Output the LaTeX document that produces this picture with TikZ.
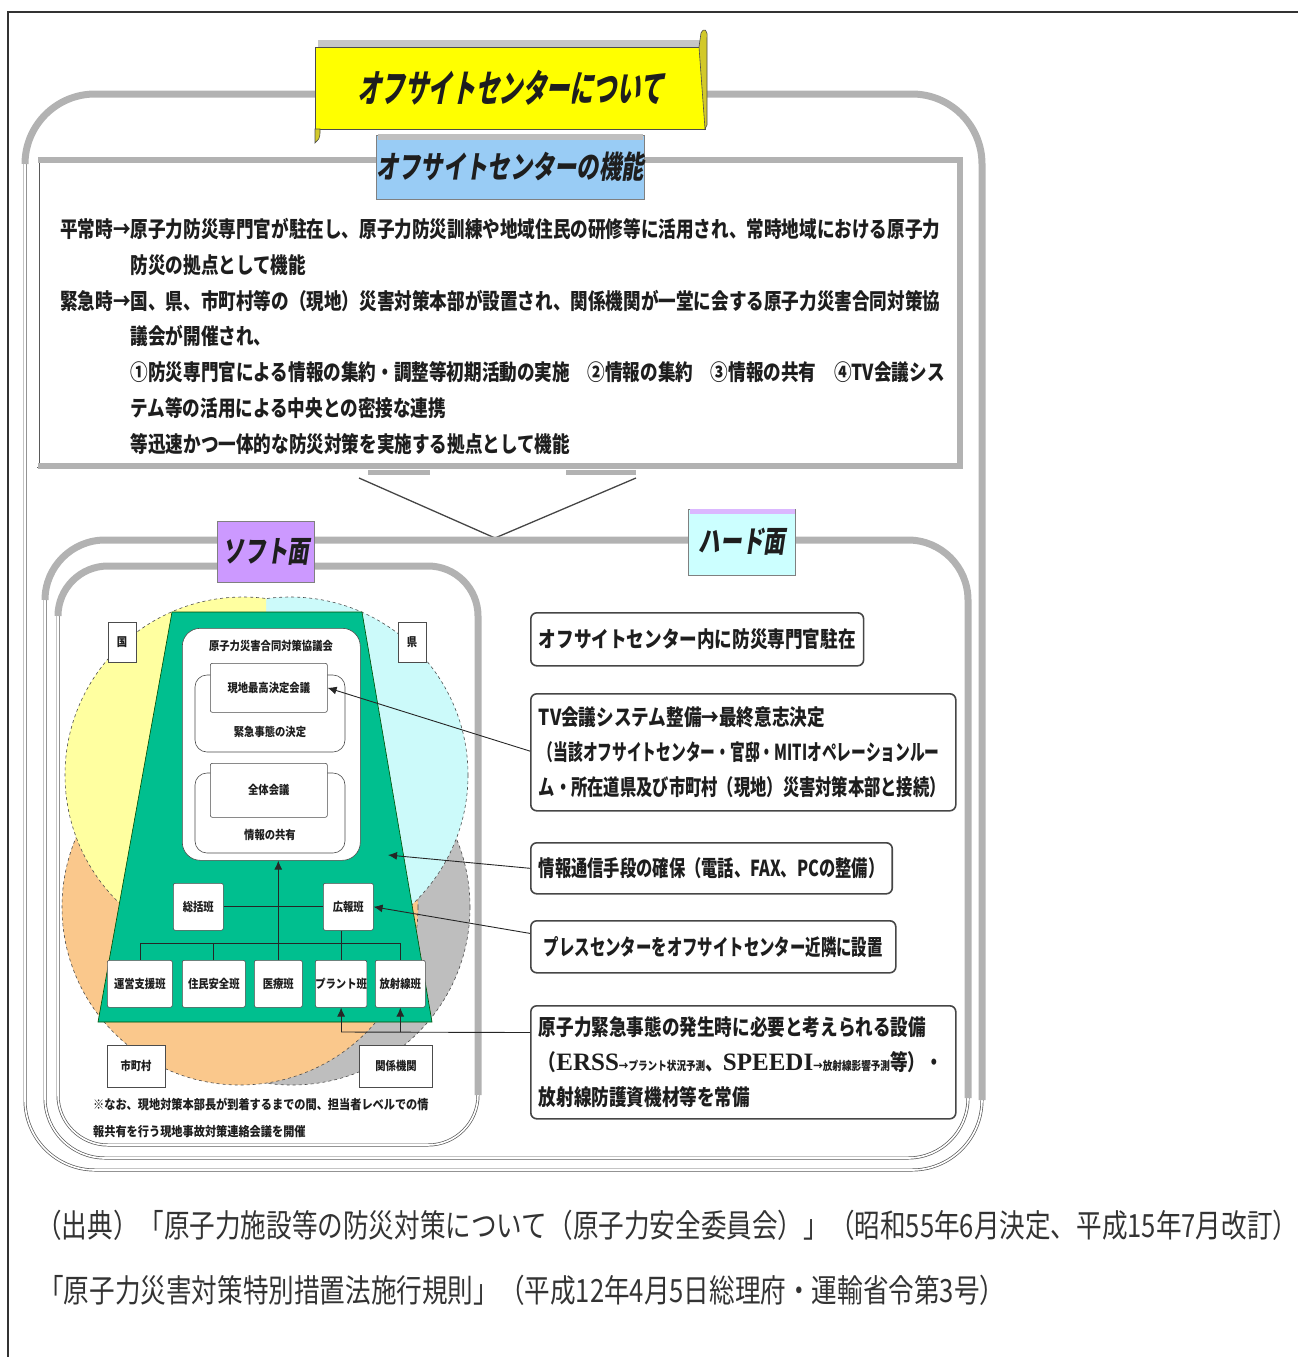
\documentclass[tikz,border=0pt]{standalone}
\usepackage{fontspec}
\usetikzlibrary{arrows.meta,calc}
\newfontfamily\jptitle[FakeStretch=0.62,FakeSlant=0.2]{Noto Sans CJK JP}
\newfontfamily\jplab[FakeStretch=0.72,FakeSlant=0.15]{Noto Sans CJK JP}
\newfontfamily\jpbody[FakeStretch=0.80]{Noto Sans CJK JP}
\newfontfamily\jpmid[FakeStretch=0.74]{Noto Sans CJK JP}
\newfontfamily\jpnarrow[FakeStretch=0.70]{Noto Sans CJK JP}
\newfontfamily\jpxnarrow[FakeStretch=0.67]{Noto Sans CJK JP}
\newfontfamily\jpsmall[FakeStretch=0.86]{Noto Sans CJK JP}
\newfontfamily\jpfoot[FakeStretch=0.80]{Noto Sans CJK JP}
\newfontfamily\serifr{Liberation Serif}
\definecolor{ttlyellow}{RGB}{255,255,0}
\definecolor{lblblue}{RGB}{153,204,245}
\definecolor{lblpurple}{RGB}{204,153,255}
\definecolor{lblcyan}{RGB}{204,255,255}
\definecolor{cyel}{RGB}{255,255,160}
\definecolor{ccyan}{RGB}{204,250,250}
\definecolor{corange}{RGB}{250,200,140}
\definecolor{cgray}{RGB}{190,190,190}
\definecolor{sgreen}{RGB}{0,191,143}
\definecolor{txt}{RGB}{30,30,30}
\begin{document}
\begin{tikzpicture}[x=1pt,y=-1pt,
  panelthin/.style={draw=gray!70!black, line width=0.7pt, double=white, double distance=1.6pt},
  panelthick/.style={draw=gray!60, line width=7pt},
  titlebox/.style={fill=ttlyellow, draw=black!70, line width=0.8pt, minimum width=390, minimum height=82, inner sep=0,
    font=\jptitle\bfseries\fontsize{38}{40}\selectfont, text=txt},
  lblbox/.style={draw=black!50, line width=0.8pt, inner sep=0, font=\jplab\bfseries\fontsize{30}{32}\selectfont, text=txt},
  hbox/.style={draw=gray!55!black, line width=1.6pt, rounded corners=6, fill=white, inner xsep=8, inner ysep=0, anchor=north west,
    font=\jpbody\bfseries\fontsize{22}{35}\selectfont, text=txt},
  sbox/.style={draw=gray!60!black, line width=0.6pt, fill=white, inner sep=0, rounded corners=2,
    font=\jpsmall\bfseries\fontsize{12}{14}\selectfont, text=txt},
  stext/.style={inner sep=0, font=\jpsmall\bfseries\fontsize{12}{14}\selectfont, text=txt},
  bracket/.style={draw=gray!60!black, line width=0.6pt, fill=white, rounded corners=12},
  vtx/.style={draw=gray!30!black, line width=0.9pt},
  conn/.style={draw=gray!30!black, line width=0.9pt, -{Latex[length=9pt,width=8pt]}},
  circ/.style={draw=gray!60!black, line width=0.6pt, dashed},
  foot/.style={inner sep=0, anchor=west, text=black!80, font=\jpfoot\fontsize{32}{34}\selectfont}
]
\useasboundingbox (0,0) rectangle (1298,1357);
% frame
\draw[black!80, line width=1.2pt] (8,1357) -- (8,12) -- (1298,12);

% outer panel
\draw[panelthin, rounded corners=70] (25,94) rectangle (982,1170);
\draw[panelthick, rounded corners=70] (25,164) -- (25,94) -- (982,94) -- (982,1100);

% function box
\draw[panelthin] (38,160) rectangle (960,466);
\draw[panelthick, line width=6pt] (38,160) -- (960,160) -- (960,466) -- (38,466);

% funnel
\fill[white] (359,478) -- (495,538) -- (636,478) -- cycle;
\draw[gray!55!black, line width=1.3pt] (359,478) -- (495,538) -- (636,478);
\draw[gray!60, line width=5pt] (368,472) -- (430,472);
\draw[gray!60, line width=5pt] (566,472) -- (636,472);

% lower panel
\draw[panelthin, rounded corners=60] (45,540) rectangle (968,1158);
\draw[panelthick, rounded corners=60] (45,600) -- (45,540) -- (968,540) -- (968,1098);

% soft panel
\draw[panelthin, rounded corners=50] (58,566) rectangle (478,1145);
\draw[panelthick, rounded corners=50] (58,616) -- (58,566) -- (478,566) -- (478,1095);

% title scroll
\fill[gray!45] (318,40) rectangle (702,50);
\node[titlebox] (title) at (510,88) {オフサイトセンターについて};
\filldraw[fill=yellow!80!black, draw=black!70, line width=0.6pt] (699,47) -- (701,33) .. controls (704,27) and (708,30) .. (707,38) -- (707,125) -- (705,129) -- cycle;
\filldraw[fill=yellow!80!black, draw=black!70, line width=0.6pt] (315,129) -- (315,143) .. controls (318,141) and (320,138) .. (320,133) -- (320,129) -- cycle;

% function label
\node[lblbox, fill=lblblue, minimum width=267, minimum height=64, font=\jplab\bfseries\fontsize{31}{33}\selectfont] (func) at (510,167) {オフサイトセンターの機能};
\fill[gray!50] (378,134) rectangle (643,140);

% function text
\node[inner sep=0, anchor=north west, align=left, text=txt, font=\jpbody\bfseries\fontsize{22}{35.8}\selectfont] (ftext) at (60,218)
{平常時→原子力防災専門官が駐在し、原子力防災訓練や地域住民の研修等に活用され、常時地域における原子力\\
\phantom{平常時→}防災の拠点として機能\\
緊急時→国、県、市町村等の（現地）災害対策本部が設置され、関係機関が一堂に会する原子力災害合同対策協\\
\phantom{緊急時→}議会が開催され、\\
\phantom{緊急時→}①防災専門官による情報の集約・調整等初期活動の実施　②情報の集約　③情報の共有　④TV会議シス\\
\phantom{緊急時→}テム等の活用による中央との密接な連携\\
\phantom{緊急時→}等迅速かつ一体的な防災対策を実施する拠点として機能};

% panel labels
\node[lblbox, fill=lblpurple, minimum width=97, minimum height=61] (soft) at (266,552) {ソフト面};
\node[lblbox, fill=lblcyan, minimum width=107, minimum height=66] (hard) at (742,542) {ハード面};
\fill[lblpurple!70] (690,509) rectangle (795,514);

% Venn circles
\fill[cgray] (292,907) circle (178);
\draw[circ] (292,907) circle (178);
\fill[corange] (240,907) circle (178);
\draw[circ] (240,907) circle (178);
\begin{scope}
  \clip (266,500) rectangle (480,1100);
  \fill[ccyan] (290,775) circle (178);
  \draw[circ] (290,775) circle (178);
\end{scope}
\begin{scope}
  \clip (50,500) rectangle (266,1100);
  \fill[cyel] (243,775) circle (178);
  \draw[circ] (243,775) circle (178);
\end{scope}

% green trapezoid
\filldraw[fill=sgreen, draw=green!30!black, line width=0.6pt] (172,612) -- (362,612) -- (432,1022) -- (98,1022) -- cycle;

% council
\node[draw=gray!60!black, line width=0.6pt, fill=white, rounded corners=18, minimum width=178, minimum height=232, anchor=north west, inner sep=0] (council) at (182,628) {};
\node[stext] (counciltitle) at (271,646) {原子力災害合同対策協議会};
\draw[bracket] (195,675) rectangle (345,752);
\node[sbox, minimum width=117, minimum height=49, anchor=north west] (genchi) at (210,663) {現地最高決定会議};
\node[stext] (kinkyu) at (270,732) {緊急事態の決定};
\draw[bracket] (195,773) rectangle (345,853);
\node[sbox, minimum width=117, minimum height=54, anchor=north west] (zentai) at (210,763) {全体会議};
\node[stext] (kyoyu) at (270,835) {情報の共有};

% teams
\node[sbox, minimum width=50, minimum height=47, anchor=north west] (sokatsu) at (173,883) {総括班};
\node[sbox, minimum width=50, minimum height=47, anchor=north west] (koho) at (323,883) {広報班};
\node[sbox, minimum width=65, minimum height=47, anchor=north west] (unei) at (107,960) {運営支援班};
\node[sbox, minimum width=63, minimum height=47, anchor=north west] (jumin) at (182,960) {住民安全班};
\node[sbox, minimum width=48, minimum height=47, anchor=north west] (iryo) at (254,960) {医療班};
\node[sbox, minimum width=50, minimum height=47, anchor=north west] (plant) at (315,960) {プラント班};
\node[sbox, minimum width=50, minimum height=47, anchor=north west] (hosha) at (375,960) {放射線班};
\coordinate (busl) at (140,943);
\coordinate (busr) at (400,943);
\draw[vtx] (busl) -- (busr);
\draw[vtx] (busl) -- (unei.north -| busl);
\draw[vtx] (jumin.north) -- (jumin.north |- busl);
\draw[vtx] (plant.north) -- (plant.north |- busl);
\draw[vtx] (busr) -- (hosha.north -| busr);
\draw[vtx] (sokatsu.east) -- (koho.west);
\draw[vtx] (koho.south -| plant.north) -- (plant.north);
\draw[conn] (iryo.north) -- (iryo.north |- council.south);

% region labels
\node[sbox, rounded corners=0, minimum width=28, minimum height=40] (kuni) at (122,642) {国};
\node[sbox, rounded corners=0, minimum width=28, minimum height=40] (ken) at (412,642) {県};
\node[sbox, rounded corners=0, minimum width=58, minimum height=42] (shichoson) at (136,1066) {市町村};
\node[sbox, rounded corners=0, minimum width=73, minimum height=42] (kankei) at (396,1066) {関係機関};

% note
\node[inner sep=0, anchor=north west, align=left, text=txt, font=\jpsmall\bfseries\fontsize{13}{27}\selectfont] (note) at (93,1098)
{※なお、現地対策本部長が到着するまでの間、担当者レベルでの情\\報共有を行う現地事故対策連絡会議を開催};

% hard boxes
\node[hbox, minimum width=327, minimum height=53] (h1) at (530,612) {オフサイトセンター内に防災専門官駐在};
\node[hbox, minimum width=425, minimum height=117, text width=409, align=left] (h2) at (530,693)
{TV会議システム整備→最終意志決定\\{\jpxnarrow（当該オフサイトセンター・官邸・MITIオペレーションルー}\\{\jpmid ム・所在道県及び市町村（現地）災害対策本部と接続）}};
\node[hbox, minimum width=350, minimum height=51, font=\jpmid\bfseries\fontsize{22}{35}\selectfont] (h3) at (530,842) {情報通信手段の確保（電話、FAX、PCの整備）};
\node[hbox, minimum width=365, minimum height=52, font=\jpnarrow\bfseries\fontsize{22}{35}\selectfont] (h4) at (530,920) {プレスセンターをオフサイトセンター近隣に設置};
\node[hbox, minimum width=425, minimum height=113, text width=409, align=left] (h5) at (530,1005)
{原子力緊急事態の発生時に必要と考えられる設備\\（{\serifr\fontsize{25}{25}\selectfont ERSS}{\fontsize{12}{12}\selectfont →プラント状況予測}、{\serifr\fontsize{25}{25}\selectfont SPEEDI}{\fontsize{12}{12}\selectfont →放射線影響予測}等）・\\放射線防護資機材等を常備};

% connectors hard -> soft
\coordinate (tjoin) at (388,855);
\draw[conn] ($(h2.north west)!0.49!(h2.south west)$) -- (genchi.east);
\draw[conn] ($(h3.north west)!0.5!(h3.south west)$) -- (tjoin);
\draw[conn] ($(h4.north west)!0.25!(h4.south west)$) -- (koho.east);
\coordinate (sj1) at (plant.south |- 0,1032);
\coordinate (sj2) at (hosha.south |- 0,1032);
\draw[vtx] ($(h5.north west)!0.24!(h5.south west)$) -- (sj1);
\draw[conn] (sj1) -- (plant.south);
\draw[conn] (sj2) -- (hosha.south);

% footer
\node[foot] (foot1) at (36,1225) {（出典）「原子力施設等の防災対策について（原子力安全委員会）」（昭和55年6月決定、平成15年7月改訂）};
\node[foot] (foot2) at (38,1290) {「原子力災害対策特別措置法施行規則」（平成12年4月5日総理府・運輸省令第3号）};
\end{tikzpicture}
\end{document}
